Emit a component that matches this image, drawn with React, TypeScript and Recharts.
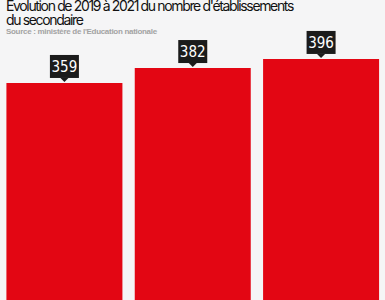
import React from "react";
import { BarChart, Bar, XAxis, YAxis, LabelList } from "recharts";

const years = ["2019", "2020", "2021"];
const establishments = [359, 382, 396];

const data = years.map((year, i) => ({ year, value: establishments[i] }));

// dark callout box with a small pointer above each bar
const Callout = (props: any) => {
  const { x, y, width, value } = props;
  const cx = x + width / 2;
  const w = 29;
  const h = 23;
  const bottom = y - 5;
  return (
    <g>
      <rect x={cx - w / 2} y={bottom - h} width={w} height={h} fill="#1b1b1b" />
      <path d={`M${cx - 4},${bottom} L${cx + 4},${bottom} L${cx},${bottom + 4} Z`} fill="#1b1b1b" />
      <text
        x={cx}
        y={bottom - h / 2 + 5.5}
        textAnchor="middle"
        fill="#ffffff"
        fontSize={15}
        fontFamily="'Liberation Sans Narrow', 'DejaVu Sans Condensed', sans-serif"
      >
        {value}
      </text>
    </g>
  );
};

export default function App() {
  return (
    <div
      style={{
        position: "fixed",
        top: 0,
        left: 0,
        width: 385,
        height: 300,
        overflow: "hidden",
        background: "#f5f5f6",
      }}
    >
      <BarChart
        width={385}
        height={316}
        data={data}
        margin={{ top: 20, right: 0, bottom: 0, left: 0 }}
        barCategoryGap="5%"
      >
        <XAxis dataKey="year" hide />
        <YAxis hide domain={[0, 456]} />
        <Bar dataKey="value" fill="#e30613" isAnimationActive={false}>
          <LabelList dataKey="value" content={<Callout />} />
        </Bar>
      </BarChart>
      <div
        style={{
          position: "absolute",
          top: -1,
          left: 6,
          fontFamily: "Inter, sans-serif",
          fontSize: 14,
          lineHeight: "13.5px",
          letterSpacing: -1.35,
          color: "#111",
        }}
      >
        Evolution de 2019 à 2021 du nombre d'établissements
        <br />
        du secondaire
      </div>
      <div
        style={{
          position: "absolute",
          top: 27,
          left: 6,
          fontFamily: "'Liberation Sans', Arial, sans-serif",
          fontWeight: "bold",
          fontSize: 8,
          letterSpacing: -0.3,
          color: "#a3a3a3",
        }}
      >
        Source : ministère de l'Education nationale
      </div>
    </div>
  );
}
